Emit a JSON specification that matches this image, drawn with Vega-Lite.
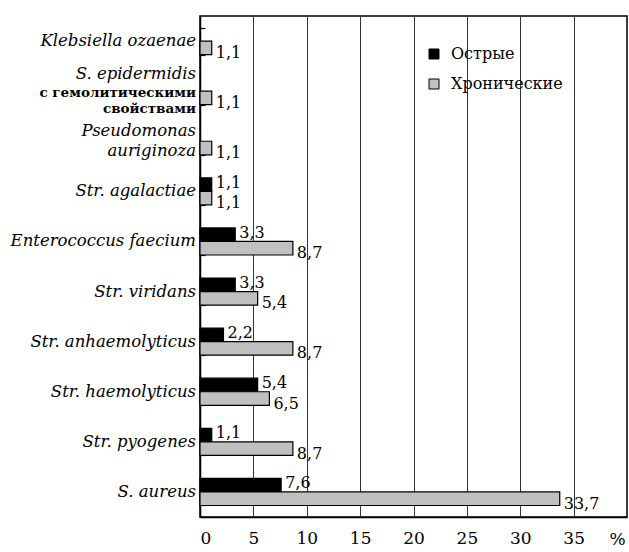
{
  "$schema": "https://vega.github.io/schema/vega-lite/v6.json",
  "width": 427,
  "height": 501,
  "autosize": {"type": "none"},
  "padding": {"left": 200, "top": 16, "right": 2, "bottom": 35},
  "background": "white",
  "config": {"view": {"stroke": "black", "strokeWidth": 1.5}, "font": "DejaVu Serif"},
  "datasets": {
    "vals": [
      {"cat": "S. aureus", "series": "Острые", "v": 7.6},
      {"cat": "S. aureus", "series": "Хронические", "v": 33.7},
      {"cat": "Str. pyogenes", "series": "Острые", "v": 1.1},
      {"cat": "Str. pyogenes", "series": "Хронические", "v": 8.7},
      {"cat": "Str. haemolyticus", "series": "Острые", "v": 5.4},
      {"cat": "Str. haemolyticus", "series": "Хронические", "v": 6.5},
      {"cat": "Str. anhaemolyticus", "series": "Острые", "v": 2.2},
      {"cat": "Str. anhaemolyticus", "series": "Хронические", "v": 8.7},
      {"cat": "Str. viridans", "series": "Острые", "v": 3.3},
      {"cat": "Str. viridans", "series": "Хронические", "v": 5.4},
      {"cat": "Enterococcus faecium", "series": "Острые", "v": 3.3},
      {"cat": "Enterococcus faecium", "series": "Хронические", "v": 8.7},
      {"cat": "Str. agalactiae", "series": "Острые", "v": 1.1},
      {"cat": "Str. agalactiae", "series": "Хронические", "v": 1.1},
      {"cat": "Pseudomonas auriginoza", "series": "Хронические", "v": 1.1},
      {"cat": "S. epidermidis с гемолитическими свойствами", "series": "Хронические", "v": 1.1},
      {"cat": "Klebsiella ozaenae", "series": "Хронические", "v": 1.1}
    ],
    "labels": [
      {"cat": "Klebsiella ozaenae", "it": "Klebsiella ozaenae", "kind": "single"},
      {"cat": "S. epidermidis с гемолитическими свойствами", "it": "S. epidermidis", "bold": "с гемолитическими\nсвойствами", "kind": "mixed"},
      {"cat": "Pseudomonas auriginoza", "it": "Pseudomonas\nauriginoza", "kind": "double"},
      {"cat": "Str. agalactiae", "it": "Str. agalactiae", "kind": "single"},
      {"cat": "Enterococcus faecium", "it": "Enterococcus faecium", "kind": "single"},
      {"cat": "Str. viridans", "it": "Str. viridans", "kind": "single"},
      {"cat": "Str. anhaemolyticus", "it": "Str. anhaemolyticus", "kind": "single"},
      {"cat": "Str. haemolyticus", "it": "Str. haemolyticus", "kind": "single"},
      {"cat": "Str. pyogenes", "it": "Str. pyogenes", "kind": "single"},
      {"cat": "S. aureus", "it": "S. aureus", "kind": "single"}
    ]
  },
  "layer": [
    {
      "data": {"name": "vals"},
      "mark": {"type": "bar", "stroke": "black", "strokeWidth": 1.2},
      "encoding": {
        "y": {
          "field": "cat", "type": "nominal",
          "scale": {
            "domain": ["Klebsiella ozaenae", "S. epidermidis с гемолитическими свойствами", "Pseudomonas auriginoza", "Str. agalactiae", "Enterococcus faecium", "Str. viridans", "Str. anhaemolyticus", "Str. haemolyticus", "Str. pyogenes", "S. aureus"],
            "paddingInner": 0.46, "paddingOuter": 0.23
          },
          "axis": {"title": null, "labels": false, "tickBand": "extent", "tickSize": -5, "tickWidth": 1.2, "tickColor": "black", "domainColor": "black", "domainWidth": 1.5}
        },
        "yOffset": {"field": "series", "type": "nominal", "scale": {"domain": ["Острые", "Хронические"], "paddingInner": 0}},
        "x": {
          "field": "v", "type": "quantitative",
          "scale": {"domain": [0, 40], "nice": false},
          "axis": {
            "values": [0, 5, 10, 15, 20, 25, 30, 35],
            "grid": true, "gridColor": "#333", "gridWidth": 1,
            "ticks": false, "domainColor": "black", "domainWidth": 1.5,
            "labelFontSize": 17, "labelPadding": 13, "labelColor": "black", "labelFont": "DejaVu Serif",
            "title": "%", "titleX": 417, "titleY": 22, "titleAlign": "center", "titleBaseline": "middle",
            "titleFontWeight": "normal", "titleFontSize": 17, "titleColor": "black", "titleFont": "DejaVu Serif"
          }
        },
        "fill": {
          "field": "series", "type": "nominal",
          "scale": {"domain": ["Острые", "Хронические"], "range": ["black", "#c0c0c0"]},
          "legend": {
            "orient": "none", "legendX": 226, "legendY": 30, "title": null,
            "symbolType": "square", "symbolSize": 100, "symbolStrokeColor": "black", "symbolStrokeWidth": 1,
            "labelFontSize": 16, "labelFont": "DejaVu Serif", "labelColor": "black", "rowPadding": 14, "labelOffset": 9
          }
        }
      }
    },
    {
      "data": {"name": "vals"},
      "transform": [
        {"filter": "datum.series === 'Острые'"},
        {"calculate": "replace(format(datum.v, '.1f'), '.', ',')", "as": "lab"}
      ],
      "mark": {"type": "text", "align": "left", "baseline": "middle", "dx": 4, "dy": -2, "fontSize": 16, "font": "DejaVu Serif", "color": "black"},
      "encoding": {
        "y": {"field": "cat", "type": "nominal"},
        "yOffset": {"field": "series", "type": "nominal"},
        "x": {"field": "v", "type": "quantitative"},
        "text": {"field": "lab"}
      }
    },
    {
      "data": {"name": "vals"},
      "transform": [
        {"filter": "datum.series === 'Хронические'"},
        {"calculate": "replace(format(datum.v, '.1f'), '.', ',')", "as": "lab"}
      ],
      "mark": {"type": "text", "align": "left", "baseline": "middle", "dx": 4, "dy": 5, "fontSize": 16, "font": "DejaVu Serif", "color": "black"},
      "encoding": {
        "y": {"field": "cat", "type": "nominal"},
        "yOffset": {"field": "series", "type": "nominal"},
        "x": {"field": "v", "type": "quantitative"},
        "text": {"field": "lab"}
      }
    },
    {
      "data": {"name": "labels"},
      "transform": [{"filter": "datum.kind === 'single'"}],
      "mark": {"type": "text", "align": "right", "baseline": "middle", "dx": -4, "fontSize": 16.5, "fontStyle": "italic", "font": "DejaVu Serif", "color": "black"},
      "encoding": {
        "y": {"field": "cat", "type": "nominal"},
        "x": {"datum": 0, "type": "quantitative"},
        "text": {"field": "it"}
      }
    },
    {
      "data": {"name": "labels"},
      "transform": [{"filter": "datum.kind === 'double'"}],
      "mark": {"type": "text", "align": "right", "baseline": "middle", "dx": -4, "dy": -10, "fontSize": 16.5, "fontStyle": "italic", "font": "DejaVu Serif", "lineBreak": "\n", "lineHeight": 20, "color": "black"},
      "encoding": {
        "y": {"field": "cat", "type": "nominal"},
        "x": {"datum": 0, "type": "quantitative"},
        "text": {"field": "it"}
      }
    },
    {
      "data": {"name": "labels"},
      "transform": [{"filter": "datum.kind === 'mixed'"}],
      "mark": {"type": "text", "align": "right", "baseline": "middle", "dx": -4, "dy": -17, "fontSize": 16.5, "fontStyle": "italic", "font": "DejaVu Serif", "color": "black"},
      "encoding": {
        "y": {"field": "cat", "type": "nominal"},
        "x": {"datum": 0, "type": "quantitative"},
        "text": {"field": "it"}
      }
    },
    {
      "data": {"name": "labels"},
      "transform": [{"filter": "datum.kind === 'mixed'"}],
      "mark": {"type": "text", "align": "right", "baseline": "middle", "dx": -4, "dy": 2, "fontSize": 13.5, "fontWeight": "bold", "font": "DejaVu Serif", "lineBreak": "\n", "lineHeight": 16, "color": "black"},
      "encoding": {
        "y": {"field": "cat", "type": "nominal"},
        "x": {"datum": 0, "type": "quantitative"},
        "text": {"field": "bold"}
      }
    }
  ]
}
